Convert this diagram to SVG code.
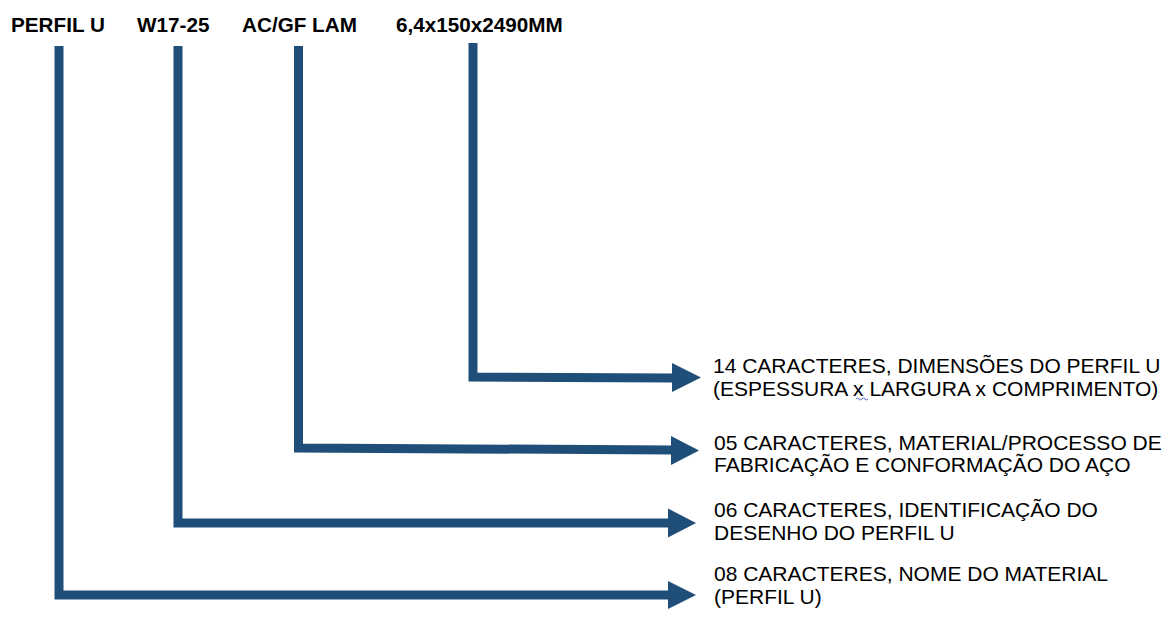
<svg xmlns="http://www.w3.org/2000/svg" width="1172" height="619" viewBox="0 0 1172 619">
<style>
.code{font-family:"Liberation Sans",Arial,sans-serif;font-weight:bold;font-size:20.7px;fill:#000}
.lbl{font-family:"Liberation Sans",Arial,sans-serif;font-size:21px;fill:#000}
.ln{fill:none;stroke:#1F4E79;stroke-width:9;stroke-linejoin:miter;stroke-linecap:butt}
.hd{fill:#1F4E79}
</style>
<rect width="1172" height="619" fill="#fff"/>
<g id="codes">
<text class="code" x="11" y="32">PERFIL U</text>
<text class="code" x="137" y="32">W17-25</text>
<text class="code" x="242" y="32">AC/GF LAM</text>
<text class="code" x="396" y="32">6,4x150x2490MM</text>
</g>
<g id="connectors">
<polyline class="ln" points="59,46 59,595 669,595"/>
<polygon class="hd" points="668,581 696,595 668,609"/>
<polyline class="ln" points="178,46 178,523 669,523"/>
<polygon class="hd" points="668,508.5 696,523 668,537.5"/>
<polyline class="ln" points="298.5,46 298.5,448 672,450"/>
<polygon class="hd" points="671,436 699,450.5 671,465"/>
<polyline class="ln" points="473,43 473,377 673,378"/>
<polygon class="hd" points="672,363 701,377.5 672,392"/>
</g>
<g id="label-14">
<text class="lbl" x="713" y="373">14 CARACTERES, DIMENSÕES DO PERFIL U</text>
<text class="lbl" x="713" y="396">(ESPESSURA x LARGURA x COMPRIMENTO)</text>
<path d="M856,399 q1.5,-2 3,0 t3,0 t3,0 t3,0" fill="none" stroke="#4a5fd0" stroke-width="1"/>
</g>
<g id="label-05">
<text class="lbl" x="714" y="450">05 CARACTERES, MATERIAL/PROCESSO DE</text>
<text class="lbl" x="714" y="472">FABRICAÇÃO E CONFORMAÇÃO DO AÇO</text>
</g>
<g id="label-06">
<text class="lbl" x="714" y="517">06 CARACTERES, IDENTIFICAÇÃO DO</text>
<text class="lbl" x="714" y="540">DESENHO DO PERFIL U</text>
</g>
<g id="label-08">
<text class="lbl" x="714" y="581">08 CARACTERES, NOME DO MATERIAL</text>
<text class="lbl" x="714" y="604">(PERFIL U)</text>
</g>
</svg>
